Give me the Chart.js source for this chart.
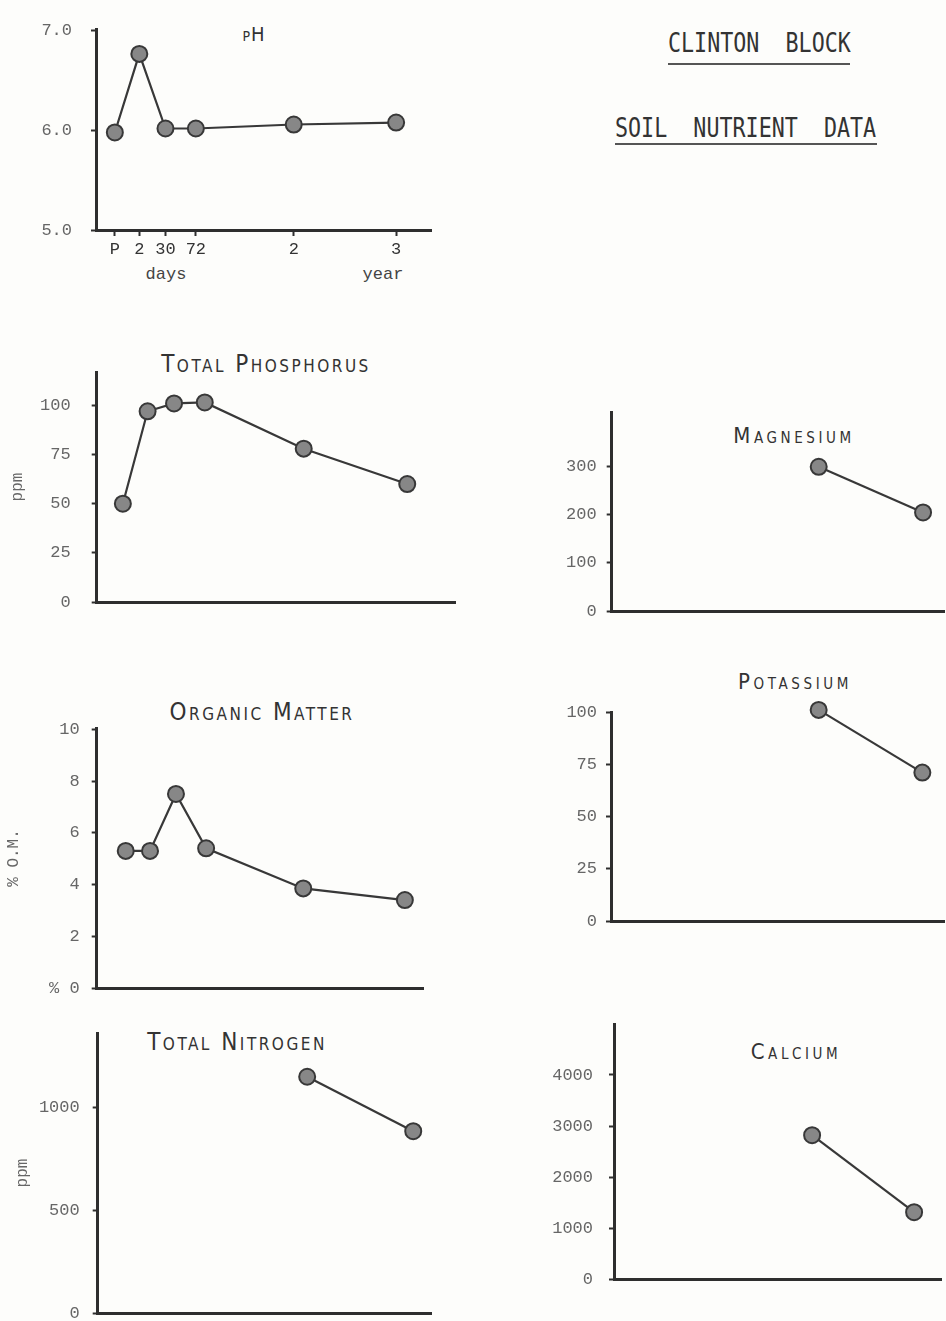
<!DOCTYPE html>
<html>
<head>
<meta charset="utf-8">
<title>Clinton Block - Soil Nutrient Data</title>
<script src="https://cdn.jsdelivr.net/npm/chart.js@4.4.1/dist/chart.umd.min.js"></script>
<style>
html, body { margin: 0; padding: 0; width: 946px; height: 1321px; overflow: hidden; background: #fdfdfb; }
canvas { position: absolute; }
.head { position: absolute; font-family: 'DejaVu Sans Mono', monospace; font-size: 21.7px; line-height: 1; color: #333; white-space: pre; transform-origin: left top; transform: scaleY(1.2); }
.rule { position: absolute; height: 2px; background: #555; }
.ttl { position: absolute; font-family: 'Liberation Sans Narrow', 'DejaVu Sans Condensed', 'Liberation Sans', sans-serif; font-variant: small-caps; line-height: 1; color: #333; white-space: nowrap; transform: translateX(-50%); letter-spacing: 2.5px; }
.ttl.r { letter-spacing: 3.6px; }
.lbl { position: absolute; font-family: 'Liberation Mono', monospace; font-size: 17px; line-height: 1; color: #444; transform: translateX(-50%); }
</style>
</head>
<body>

<div class="head" style="left:668px; top:30px;">CLINTON  BLOCK</div>
<div class="rule" style="left:668px; top:63px; width:182px;"></div>
<div class="head" style="left:615px; top:115px;">SOIL  NUTRIENT  DATA</div>
<div class="rule" style="left:615px; top:143px; width:262px;"></div>

<div class="ttl" style="left:254px; top:24px; font-size:20px; letter-spacing:1px;">pH</div>
<div class="ttl" style="left:266px; top:352px; font-size:24px;">Total Phosphorus</div>
<div class="ttl" style="left:262px; top:700px; font-size:24px;">Organic Matter</div>
<div class="ttl" style="left:237px; top:1030px; font-size:24px;">Total Nitrogen</div>
<div class="ttl r" style="left:794px; top:425px; font-size:22px;">Magnesium</div>
<div class="ttl r" style="left:795px; top:671px; font-size:22px;">Potassium</div>
<div class="ttl r" style="left:796px; top:1041px; font-size:22px;">Calcium</div>

<div class="lbl" style="left:166px; top:266px;">days</div>
<div class="lbl" style="left:383px; top:266px;">year</div>

<script>
// posição das coletas no eixo x: P, 2, 30, 72 dias, 2 e 3 anos
const samplePos = [0, 0.87, 1.8, 2.88, 6.36, 10];
const sampleLabels = ['P', '2', '30', '72', '2', '3'];

const phValues = [5.98, 6.77, 6.02, 6.02, 6.06, 6.08];
const phosphorusValues = [50, 97, 101, 101.5, 78, 60];
const organicValues = [5.3, 5.3, 7.5, 5.4, 3.85, 3.4];
const nitrogenValues = [null, null, null, null, 1150, 885];
const magnesiumValues = [null, null, null, null, 300, 205];
const potassiumValues = [null, null, null, null, 101, 71];
const calciumValues = [null, null, null, null, 2820, 1310];

// marcas do eixo y
const phTicks = [5, 6, 7];
const phosphorusTicks = [0, 25, 50, 75, 100];
const organicTicks = [0, 2, 4, 6, 8, 10];
const nitrogenTicks = [0, 500, 1000];
const magnesiumTicks = [0, 100, 200, 300];
const potassiumTicks = [0, 25, 50, 75, 100];
const calciumTicks = [0, 1000, 2000, 3000, 4000];

const tickFont = { family: 'Liberation Mono', size: 17 };
const ink = '#2e2e2e';

// cria um gráfico pequeno numa posição fixa da página
function drawPanel(p) {
  // o Chart.js soma o padding dos ticks ao espaço de cima, então reservo isso
  const padTop = Math.ceil(Math.max(14, 12 + p.gap));
  const top = Math.round(p.at - padTop);
  const w = Math.round(p.ar + 8 - p.left);
  const h = Math.round(p.ab + 44 - top);
  const canvas = document.createElement('canvas');
  canvas.id = p.id;
  canvas.width = w;
  canvas.height = h;
  canvas.style.left = p.left + 'px';
  canvas.style.top = top + 'px';
  canvas.style.width = w + 'px';
  canvas.style.height = h + 'px';
  document.body.appendChild(canvas);

  return new Chart(canvas, {
    type: 'line',
    data: {
      datasets: [{
        data: samplePos.map((x, i) => ({ x: x, y: p.values[i] })),
        borderColor: '#383838',
        borderWidth: 2.2,
        pointRadius: 8,
        pointHoverRadius: 8,
        pointBackgroundColor: '#878787',
        pointBorderColor: '#383838',
        pointBorderWidth: 2,
        tension: 0,
        clip: false
      }]
    },
    options: {
      responsive: false,
      animation: false,
      layout: { padding: { top: p.at - top, right: 8, left: 0, bottom: 0 } },
      plugins: { legend: { display: false }, tooltip: { enabled: false } },
      scales: {
        x: {
          type: 'linear',
          min: p.xMin,
          max: p.xMax,
          border: { color: ink, width: 3 },
          grid: { display: !!p.xLabels, drawOnChartArea: false, tickLength: 6, tickWidth: 2, tickColor: ink },
          ticks: {
            display: !!p.xLabels,
            autoSkip: false,
            maxRotation: 0,
            padding: 3,
            color: '#333',
            font: tickFont,
            callback: (v, i) => p.xLabels ? p.xLabels[i] : ''
          },
          afterBuildTicks: s => { s.ticks = samplePos.map(v => ({ value: v })); },
          afterFit: s => { s.height = 44; }
        },
        y: {
          min: p.yMin,
          max: p.yMax,
          border: { color: ink, width: 3 },
          grid: { drawOnChartArea: false, tickLength: 5, tickWidth: 2, tickColor: ink },
          ticks: { padding: p.gap, color: '#666', font: tickFont, callback: p.fmt || (v => String(v)) },
          afterBuildTicks: s => { s.ticks = p.yTicks.map(v => ({ value: v })); },
          afterFit: s => { s.width = p.ax - p.left; },
          title: p.yTitle ? {
            display: true,
            text: p.yTitle,
            color: '#666',
            font: { family: 'Liberation Mono', size: 16 },
            padding: { top: p.titlePad, bottom: 0 }
          } : { display: false }
        }
      }
    }
  });
}

drawPanel({ id: 'ph', left: 0, ax: 96, ar: 433, at: 29, ab: 230, xMin: -0.67, xMax: 11.24,
  yMin: 5, yMax: 7.02, yTicks: phTicks, values: phValues, gap: 19,
  fmt: v => v.toFixed(1), xLabels: sampleLabels });

drawPanel({ id: 'phosphorus', left: 0, ax: 96.7, ar: 457, at: 372, ab: 602, xMin: -0.92, xMax: 11.68,
  yMin: 0, yMax: 117, yTicks: phosphorusTicks, values: phosphorusValues, gap: 21,
  yTitle: 'ppm', titlePad: 8 });

drawPanel({ id: 'organic', left: 0, ax: 96.7, ar: 425, at: 728, ab: 988, xMin: -1.04, xMax: 10.65,
  yMin: 0, yMax: 10.05, yTicks: organicTicks, values: organicValues, gap: 12,
  yTitle: '% O.M.', titlePad: 4, fmt: v => v === 0 ? '% 0' : String(v) });

drawPanel({ id: 'nitrogen', left: 0, ax: 97.7, ar: 433, at: 1033, ab: 1313, xMin: -0.83, xMax: 10.61,
  yMin: 0, yMax: 1363, yTicks: nitrogenTicks, values: nitrogenValues, gap: 13,
  yTitle: 'ppm', titlePad: 13 });

drawPanel({ id: 'magnesium', left: 530, ax: 611.7, ar: 946, at: 412, ab: 611, xMin: -0.86, xMax: 10.73,
  yMin: 0, yMax: 414, yTicks: magnesiumTicks, values: magnesiumValues, gap: 10 });

drawPanel({ id: 'potassium', left: 530, ax: 611, ar: 946, at: 712, ab: 921, xMin: -0.93, xMax: 10.76,
  yMin: 0, yMax: 100, yTicks: potassiumTicks, values: potassiumValues, gap: 9 });

drawPanel({ id: 'calcium', left: 530, ax: 614, ar: 943, at: 1024, ab: 1279, xMin: -0.71, xMax: 10.96,
  yMin: 0, yMax: 5000, yTicks: calciumTicks, values: calciumValues, gap: 16 });
</script>
</body>
</html>
